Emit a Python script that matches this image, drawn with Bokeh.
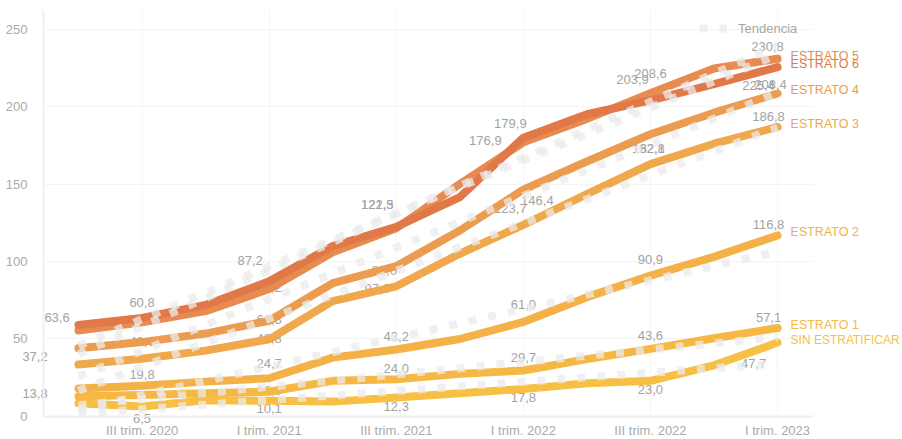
import numpy as np
from bokeh.plotting import figure
from bokeh.models import (ColumnDataSource, FixedTicker, LabelSet, Legend,
                          LegendItem, Range1d, Grid)
from bokeh.core.properties import value
from bokeh.embed import file_html
from bokeh.resources import INLINE

# ---------------- data ----------------
quarters = ["II trim. 2020", "III trim. 2020", "IV trim. 2020", "I trim. 2021",
            "II trim. 2021", "III trim. 2021", "IV trim. 2021", "I trim. 2022",
            "II trim. 2022", "III trim. 2022", "IV trim. 2022", "I trim. 2023"]
tick_positions = [1, 3, 5, 7, 9, 11]
labelled_points = [1, 3, 5, 7, 9, 11]
y_ticks = [0, 50, 100, 150, 200, 250]

series_names = ["SIN ESTRATIFICAR", "ESTRATO 1", "ESTRATO 2", "ESTRATO 3",
                "ESTRATO 4", "ESTRATO 5", "ESTRATO 6"]
sin_estratificar = [8.5, 6.5, 10.5, 10.1, 9.6, 12.3, 15.0, 17.8, 21.5, 23.0, 33.0, 47.7]
estrato_1 = [13.0, 13.8, 15.0, 16.0, 23.0, 24.0, 27.5, 29.7, 37.0, 43.6, 50.5, 57.1]
estrato_2 = [18.0, 19.8, 22.5, 24.7, 38.0, 43.2, 50.0, 61.0, 77.0, 90.9, 103.0, 116.8]
estrato_3 = [33.5, 37.2, 42.5, 49.8, 74.5, 84.0, 105.0, 123.7, 143.5, 162.8, 176.0, 186.8]
estrato_4 = [44.0, 48.0, 53.5, 61.8, 86.0, 97.0, 120.0, 146.4, 164.5, 182.1, 196.0, 208.4]
estrato_5 = [55.5, 60.8, 68.0, 82.2, 106.0, 121.5, 150.0, 176.9, 192.0, 208.6, 224.5, 230.8]
estrato_6 = [59.0, 63.6, 72.0, 87.2, 110.0, 122.3, 141.5, 179.9, 195.0, 203.9, 214.5, 225.4]
values = dict(zip(series_names, [sin_estratificar, estrato_1, estrato_2, estrato_3,
                                 estrato_4, estrato_5, estrato_6]))

# ---------------- styles ----------------
line_colors = {
    "SIN ESTRATIFICAR": "#f8bf45", "ESTRATO 1": "#f5b845", "ESTRATO 2": "#f3b147",
    "ESTRATO 3": "#efa84b", "ESTRATO 4": "#eb9c50", "ESTRATO 5": "#e88b50",
    "ESTRATO 6": "#e07848",
}
end_label_size = {n: "12.5px" for n in series_names}
end_label_size["SIN ESTRATIFICAR"] = "12px"
GREY = "#a3a3a3"
FONT = "Liberation Sans"

# plotting window (data units): visible frame and the axis extents
X_VIEW = (-1.2274, 12.966)
Y_VIEW = (-14.84, 268.39)
X_AXIS_SPAN = (-0.551, 11.566)
Y_AXIS_SPAN = (0, 262)

# label nudges in screen pixels (dx right, dy down) to mimic collision avoidance
label_nudge = {
    ("ESTRATO 6", 1): (-85, 0), ("ESTRATO 5", 1): (0, -20), ("ESTRATO 4", 1): (0, -1),
    ("ESTRATO 3", 1): (-107, -2), ("ESTRATO 2", 1): (0, -11), ("ESTRATO 1", 1): (-107, -2),
    ("SIN ESTRATIFICAR", 1): (0, 12),
    ("ESTRATO 6", 3): (-19, -21), ("ESTRATO 5", 3): (0, -2), ("ESTRATO 4", 3): (0, -1),
    ("ESTRATO 3", 3): (0, -1), ("ESTRATO 2", 3): (0, -15), ("ESTRATO 1", 3): (0, -1),
    ("SIN ESTRATIFICAR", 3): (0, 8),
    ("ESTRATO 6", 5): (-19, -22), ("ESTRATO 5", 5): (-19, -24), ("ESTRATO 4", 5): (-19, 22),
    ("ESTRATO 3", 5): (-12, -16), ("ESTRATO 2", 5): (0, -13), ("ESTRATO 1", 5): (0, -11),
    ("SIN ESTRATIFICAR", 5): (0, 9),
    ("ESTRATO 6", 7): (-13, -14), ("ESTRATO 5", 7): (-38, -2), ("ESTRATO 4", 7): (14, 11),
    ("ESTRATO 3", 7): (-13, -16), ("ESTRATO 2", 7): (0, -17), ("ESTRATO 1", 7): (0, -13),
    ("SIN ESTRATIFICAR", 7): (0, 9),
    ("ESTRATO 6", 9): (-18, -21), ("ESTRATO 5", 9): (0, -20), ("ESTRATO 4", 9): (-2, 14),
    ("ESTRATO 3", 9): (-2, -16), ("ESTRATO 2", 9): (0, -16), ("ESTRATO 1", 9): (0, -13),
    ("SIN ESTRATIFICAR", 9): (0, 9),
    ("ESTRATO 6", 11): (-19, 18), ("ESTRATO 5", 11): (-10, -12), ("ESTRATO 4", 11): (-7, -9),
    ("ESTRATO 3", 11): (-9, -10), ("ESTRATO 2", 11): (-9, -11), ("ESTRATO 1", 11): (-9, -10),
    ("SIN ESTRATIFICAR", 11): (-24, 21),
}

# ---------------- figure ----------------
x = list(range(len(quarters)))
p = figure(width=902, height=439, output_backend="svg", toolbar_location=None,
           x_range=Range1d(*X_VIEW), y_range=Range1d(*Y_VIEW),
           min_border=0, min_border_left=0, min_border_right=0,
           min_border_top=0, min_border_bottom=0)
p.outline_line_color = None
p.background_fill_color = "white"

# axes, placed at fixed data locations inside the frame
p.xaxis.ticker = FixedTicker(ticks=tick_positions)
p.xaxis.major_label_overrides = {i: quarters[i] for i in tick_positions}
p.yaxis.ticker = FixedTicker(ticks=y_ticks)
p.xaxis.fixed_location = Y_AXIS_SPAN[0]
p.yaxis.fixed_location = X_AXIS_SPAN[0]
p.xaxis.bounds = X_AXIS_SPAN
p.yaxis.bounds = Y_AXIS_SPAN
for ax in (p.xaxis[0], p.yaxis[0]):
    ax.major_tick_line_color = None
    ax.minor_tick_line_color = None
    ax.major_label_text_color = "#aaaaaa"
    ax.major_label_text_font = FONT
    ax.major_label_text_font_size = "13px"
    ax.axis_line_color = "#efefef"
    ax.axis_line_width = 2
p.yaxis.major_label_standoff = 10
p.xaxis.major_label_standoff = 1

if "cross_bounds" in Grid.properties():
    p.xgrid.cross_bounds = Y_AXIS_SPAN
    p.ygrid.cross_bounds = X_AXIS_SPAN
    p.xgrid.grid_line_color = "#f6f6f6"
    p.ygrid.grid_line_color = "#f4f4f4"
else:
    p.xgrid.grid_line_color = None
    p.ygrid.grid_line_color = None
    p.segment(x0=tick_positions, x1=tick_positions, y0=Y_AXIS_SPAN[0],
              y1=Y_AXIS_SPAN[1], line_color="#f6f6f6", level="underlay")
    p.segment(x0=X_AXIS_SPAN[0], x1=X_AXIS_SPAN[1], y0=y_ticks[1:],
              y1=y_ticks[1:], line_color="#f4f4f4", level="underlay")

# data labels (drawn under the lines)
lx, ly, lt, ldx, ldy = [], [], [], [], []
for name in series_names:
    for i in labelled_points:
        v = values[name][i]
        dx, dy = label_nudge.get((name, i), (0, -14))
        lx.append(i)
        ly.append(v)
        lt.append(f"{v:.1f}".replace(".", ","))
        ldx.append(dx)
        ldy.append(-dy)
lab_src = ColumnDataSource(dict(x=lx, y=ly, text=lt, dx=ldx, dy=ldy))
p.add_layout(LabelSet(x="x", y="y", text="text", source=lab_src, x_offset="dx",
                      y_offset="dy", text_align="center", text_baseline="middle",
                      text_color=GREY, text_font=value(FONT),
                      text_font_size="13px", level="underlay"))

# series lines
for name in series_names:
    p.line(x, values[name], line_width=8, line_color=line_colors[name],
           line_cap="round", line_join="round")

# trend lines (linear fit of each series)
trend_renderers = []
for name in series_names:
    coef = np.polyfit(x, values[name], 1)
    r = p.line(x, np.polyval(coef, x), line_width=8, line_color="#ebebeb",
               line_alpha=0.75, line_dash="8 12", line_cap="butt")
    trend_renderers.append(r)

legend = Legend(items=[LegendItem(label="Tendencia", renderers=[trend_renderers[0]])],
                location=(699, 401), glyph_width=28, glyph_height=20,
                label_standoff=11, padding=0, margin=0, border_line_color=None,
                background_fill_alpha=0, label_text_color="#a6a6a6",
                label_text_font=FONT, label_text_font_size="13px")
p.add_layout(legend)

# series names at line ends
end_src = ColumnDataSource(dict(
    x=[x[-1]] * len(series_names),
    y=[values[n][-1] for n in series_names],
    text=series_names,
    color=[line_colors[n] for n in series_names],
    size=[end_label_size[n] for n in series_names],
))
p.add_layout(LabelSet(x="x", y="y", text="text", source=end_src, x_offset=13,
                      y_offset=3, text_align="left", text_baseline="middle",
                      text_color="color", text_font=value(FONT),
                      text_font_size="size"))

open("out.html", "w").write(file_html(p, INLINE))
